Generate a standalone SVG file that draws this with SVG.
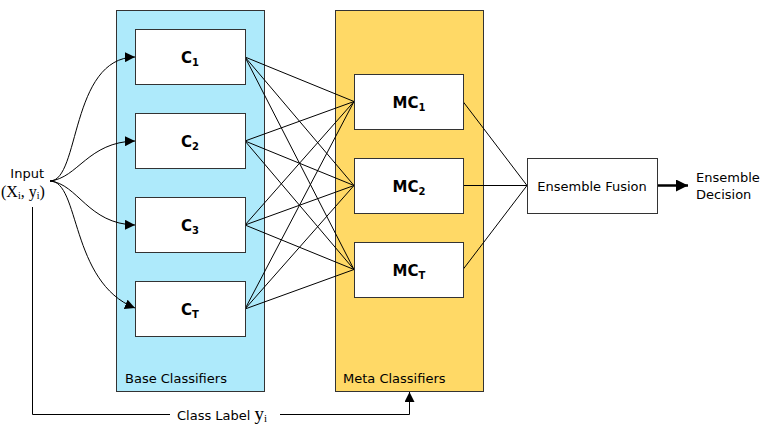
<svg xmlns="http://www.w3.org/2000/svg" width="762" height="428" viewBox="0 0 762 428">
<defs>
<style>
.panel{stroke:#333;stroke-width:1}
.box{fill:#fff;stroke:#333;stroke-width:1}
.lbl{font-family:"DejaVu Sans",Verdana,sans-serif;font-size:15px;font-weight:bold;fill:#000;text-anchor:middle}
.sub{font-size:10px}
.txt{font-family:"DejaVu Sans",Verdana,sans-serif;font-size:13px;fill:#000}
.ser{font-family:"Liberation Serif","Times New Roman",serif}
.ln{fill:none;stroke:#000;stroke-width:1}
</style>
<marker id="ah" viewBox="0 0 10 10" refX="10" refY="5" markerWidth="10" markerHeight="10" markerUnits="userSpaceOnUse" orient="auto">
<path d="M0,0 L10,5 L0,10 z" fill="#000"/>
</marker>
<marker id="ahb" viewBox="0 0 10 10" refX="10" refY="5" markerWidth="12" markerHeight="12" markerUnits="userSpaceOnUse" orient="auto">
<path d="M0,0 L10,5 L0,10 z" fill="#000"/>
</marker>
</defs>
<rect width="762" height="428" fill="#fff"/>
<g id="base-panel">
<rect class="panel" x="116.5" y="10.5" width="148" height="381" fill="#AEEAFB"/>
<text class="txt" x="125" y="383" font-size="12.5">Base Classifiers</text>
</g>
<g id="meta-panel">
<rect class="panel" x="335.5" y="10.5" width="148" height="381" fill="#FFD966"/>
<text class="txt" x="343" y="383" font-size="12.5">Meta Classifiers</text>
</g>
<g id="connectors">
<path class="ln" d="M50,181 C80,181 70,58 135,57" marker-end="url(#ah)"/>
<path class="ln" d="M50,181 C78,178 88,142 135,141" marker-end="url(#ah)"/>
<path class="ln" d="M50,181 C78,184 88,224 135,225" marker-end="url(#ah)"/>
<path class="ln" d="M50,181 C80,181 70,282 135,308" marker-end="url(#ah)"/>
<g class="ln">
<path d="M245,57 L354,101.5 M245,57 L354,185.5 M245,57 L354,269.5"/>
<path d="M245,141 L354,101.5 M245,141 L354,185.5 M245,141 L354,269.5"/>
<path d="M245,225 L354,101.5 M245,225 L354,185.5 M245,225 L354,269.5"/>
<path d="M245,309 L354,101.5 M245,309 L354,185.5 M245,309 L354,269.5"/>
<path d="M463,101.5 L527,185.5 M463,185.5 L527,185.5 M463,269.5 L527,185.5"/>
</g>
<path d="M657,185.5 L688,185.5" stroke="#000" stroke-width="2.5" fill="none" marker-end="url(#ahb)"/>
<path class="ln" d="M32.5,207 L32.5,414.5 L170,414.5"/>
<path class="ln" d="M280,414.5 L409.5,414.5 L409.5,392" marker-end="url(#ah)"/>
</g>
<g id="input">
<text class="txt" x="44" y="178" text-anchor="end" font-size="14">Input</text>
<text class="ser" x="1" y="197" font-size="16">(X<tspan font-size="10" dy="2">i</tspan><tspan dy="-2">, y</tspan><tspan font-size="10" dy="2">i</tspan><tspan dy="-2">)</tspan></text>
</g>
<g id="c1"><rect class="box" x="135.5" y="29.5" width="110" height="55"/><text class="lbl" x="190" y="63">C<tspan class="sub" dy="3">1</tspan></text></g>
<g id="c2"><rect class="box" x="135.5" y="113.5" width="110" height="55"/><text class="lbl" x="190" y="147">C<tspan class="sub" dy="3">2</tspan></text></g>
<g id="c3"><rect class="box" x="135.5" y="197.5" width="110" height="55"/><text class="lbl" x="190" y="231">C<tspan class="sub" dy="3">3</tspan></text></g>
<g id="ct"><rect class="box" x="135.5" y="281.5" width="110" height="55"/><text class="lbl" x="190" y="315">C<tspan class="sub" dy="3">T</tspan></text></g>
<g id="mc1"><rect class="box" x="354.5" y="74.5" width="109" height="55"/><text class="lbl" x="409" y="108">MC<tspan class="sub" dy="3">1</tspan></text></g>
<g id="mc2"><rect class="box" x="354.5" y="158.5" width="109" height="55"/><text class="lbl" x="409" y="192">MC<tspan class="sub" dy="3">2</tspan></text></g>
<g id="mct"><rect class="box" x="354.5" y="242.5" width="109" height="55"/><text class="lbl" x="409" y="276">MC<tspan class="sub" dy="3">T</tspan></text></g>
<g id="fusion"><rect class="box" x="527.5" y="158.5" width="130" height="55"/><text class="txt" x="592" y="191" text-anchor="middle">Ensemble Fusion</text></g>
<g id="decision"><text class="txt" x="696" y="182">Ensemble</text><text class="txt" x="696" y="199">Decision</text></g>
<g id="class-label"><text class="txt" x="177" y="420" font-size="14.5">Class Label <tspan class="ser" font-size="19">y</tspan><tspan class="ser" font-size="11" dy="2">i</tspan></text></g>
</svg>
